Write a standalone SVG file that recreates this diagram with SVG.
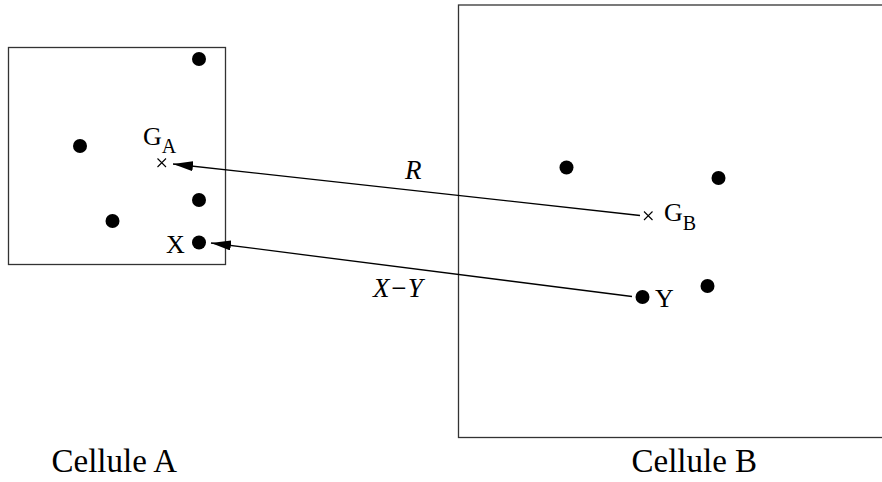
<svg xmlns="http://www.w3.org/2000/svg" width="882" height="482" viewBox="0 0 882 482">
<style>
.box{fill:none;stroke:#333;stroke-width:1.3}
.dot{fill:#000}
.cross{stroke:#000;stroke-width:1.1;fill:none}
.conn{stroke:#000;stroke-width:1.3;fill:none}
text{fill:#000;font-family:Liberation Serif,Tinos,Times New Roman,Times,DejaVu Serif,serif}
.lbl{font-size:26px}
.sub{font-size:20px}
.it{font-size:27px;font-style:italic}
.cap{font-size:33px}
</style>
<defs>
<marker id="ah" viewBox="0 0 20 10" refX="20" refY="5" markerWidth="20" markerHeight="10" markerUnits="userSpaceOnUse" orient="auto">
<path d="M0,0 L20,5 L0,10 Z" fill="#000"/>
</marker>
</defs>
<g id="cellA">
<rect class="box" x="8.5" y="47.5" width="217" height="217"/>
<circle class="dot" cx="199" cy="59" r="7"/>
<circle class="dot" cx="80" cy="146" r="7"/>
<circle class="dot" cx="199" cy="200" r="7"/>
<circle class="dot" cx="112.5" cy="221" r="7"/>
<circle class="dot" cx="199" cy="242.5" r="7"/>
<path class="cross" d="M157.5,158.5 L166,167 M157.5,167 L166,158.5"/>
<text class="lbl" x="143" y="145">G<tspan class="sub" y="153">A</tspan></text>
<text class="lbl" x="166" y="253">X</text>
<text class="cap" x="51.5" y="472">Cellule A</text>
</g>
<g id="cellB">
<rect class="box" x="458.5" y="5" width="440" height="432.5"/>
<circle class="dot" cx="566.5" cy="167.5" r="7"/>
<circle class="dot" cx="718.5" cy="178" r="7"/>
<circle class="dot" cx="707.5" cy="286" r="7"/>
<circle class="dot" cx="642.5" cy="297" r="7"/>
<path class="cross" d="M644,211.5 L652.5,220 M644,220 L652.5,211.5"/>
<text class="lbl" x="664" y="221">G<tspan class="sub" y="230">B</tspan></text>
<text class="lbl" x="655" y="307">Y</text>
<text class="cap" x="631.5" y="472">Cellule B</text>
</g>
<g id="connectors">
<line class="conn" x1="640" y1="215.5" x2="173" y2="164" marker-end="url(#ah)"/>
<line class="conn" x1="632" y1="296.5" x2="211" y2="243" marker-end="url(#ah)"/>
<text class="it" x="405" y="179">R</text>
<text class="it" x="373" y="297">X−Y</text>
</g>
</svg>
